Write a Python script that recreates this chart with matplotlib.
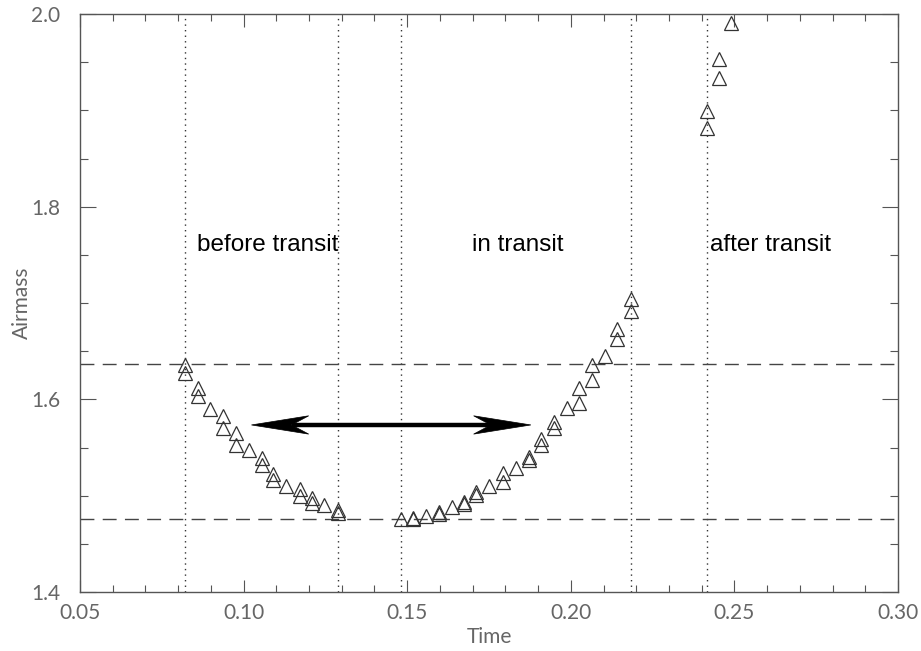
import numpy as np
import matplotlib
matplotlib.use("Agg")
import matplotlib.pyplot as plt
from matplotlib.patches import Polygon
from matplotlib.ticker import MultipleLocator

# ---- data ----
before_time = [0.0820, 0.0820, 0.0860, 0.0860, 0.0896, 0.0936, 0.0936, 0.0976, 0.0976,
               0.1015, 0.1055, 0.1055, 0.1091, 0.1091, 0.1131, 0.1171, 0.1171, 0.1210,
               0.1210, 0.1247, 0.1287, 0.1287]
before_airmass = [1.6357, 1.6273, 1.6118, 1.6035, 1.5900, 1.5827, 1.5702, 1.5651, 1.5526,
                  1.5474, 1.5391, 1.5318, 1.5225, 1.5163, 1.5100, 1.5069, 1.4997, 1.4976,
                  1.4924, 1.4903, 1.4851, 1.4820]

in_time = [0.1482, 0.1518, 0.1518, 0.1558, 0.1598, 0.1598, 0.1637, 0.1674, 0.1674,
           0.1710, 0.1710, 0.1750, 0.1793, 0.1793, 0.1832, 0.1872, 0.1872, 0.1909,
           0.1909, 0.1948, 0.1948, 0.1988, 0.2024, 0.2024, 0.2064, 0.2064, 0.2104,
           0.2140, 0.2140, 0.2183, 0.2183]
in_airmass = [1.4758, 1.4768, 1.4758, 1.4789, 1.4830, 1.4810, 1.4882, 1.4934, 1.4914,
              1.5038, 1.5007, 1.5100, 1.5235, 1.5142, 1.5287, 1.5401, 1.5370, 1.5588,
              1.5526, 1.5765, 1.5702, 1.5910, 1.6118, 1.5962, 1.6357, 1.6201, 1.6450,
              1.6730, 1.6626, 1.7042, 1.6917]

after_time = [0.2415, 0.2415, 0.2454, 0.2454, 0.2491]
after_airmass = [1.8993, 1.8817, 1.9533, 1.9336, 1.9907]

phase_bounds = [0.0820, 0.1287, 0.1482, 0.2183, 0.2415]
airmass_limits = [1.6367, 1.4758]

region_labels = ["before transit", "in transit", "after transit"]
region_label_x = [0.1073, 0.1838, 0.2610]
region_label_y = 1.7602

arrow_x = [0.1024, 0.1878]
arrow_y = 1.5734

xticks = [0.05, 0.10, 0.15, 0.20, 0.25, 0.30]
yticks = [1.4, 1.6, 1.8, 2.0]

# ---- figure ----
W, H = 921, 651
L, R, T, B = 80, 898, 14, 592
fig = plt.figure(figsize=(W / 100, H / 100), dpi=100)
ax = fig.add_axes([L / W, (H - B) / H, (R - L) / W, (B - T) / H])

gray = "#555555"
label_gray = "#666666"
tick_font = dict(family=["Lato", "DejaVu Sans"], size=15, color=label_gray, weight="normal")

ax.set_xlim(0.05, 0.30)
ax.set_ylim(1.4, 2.0)

for b in phase_bounds:
    ax.axvline(b, color="#333333", linestyle=(0, (1, 3)), linewidth=1.0, zorder=1)
for a in airmass_limits:
    ax.axhline(a, color="#444444", linestyle=(0, (10, 6)), linewidth=1.0, zorder=1)

for t, am in [(before_time, before_airmass), (in_time, in_airmass), (after_time, after_airmass)]:
    ax.plot(t, am, linestyle="none", marker="^", markersize=9.5, markerfacecolor="none",
            markeredgecolor="#333333", markeredgewidth=0.9, zorder=3)

for lab, lx in zip(region_labels, region_label_x):
    ax.text(lx, region_label_y, lab, ha="center", va="center", fontsize=17.5,
            family=["Liberation Sans", "DejaVu Sans"], color="black")

# double-headed arrow with concave heads
head_len = 0.0175
head_w = 0.0095
notch = 0.7 * head_len
x0, x1 = arrow_x
ax.plot([x0 + notch, x1 - notch], [arrow_y, arrow_y], color="black", linewidth=3.2,
        solid_capstyle="butt", zorder=4)
for tip, sgn in [(x0, 1), (x1, -1)]:
    pts = [(tip, arrow_y), (tip + sgn * head_len, arrow_y + head_w),
           (tip + sgn * notch, arrow_y), (tip + sgn * head_len, arrow_y - head_w)]
    ax.add_patch(Polygon(pts, closed=True, facecolor="black", edgecolor="black",
                         linewidth=0.5, zorder=5))

ax.set_xticks(xticks)
ax.set_xticklabels([f"{v:.2f}" for v in xticks], **tick_font)
ax.set_yticks(yticks)
ax.set_yticklabels([f"{v:.1f}" for v in yticks], **tick_font)
ax.xaxis.set_minor_locator(MultipleLocator(0.01))
ax.yaxis.set_minor_locator(MultipleLocator(0.05))

ax.tick_params(axis="x", which="major", direction="in", length=9, width=0.8,
               color=gray, top=True, bottom=True, pad=8)
ax.tick_params(axis="x", which="minor", direction="in", length=5, width=0.8,
               color=gray, top=True, bottom=True)
ax.tick_params(axis="y", which="major", direction="in", length=11.5, width=0.8,
               color=gray, left=True, right=True, pad=14)
ax.tick_params(axis="y", which="minor", direction="in", length=5.8, width=0.8,
               color=gray, left=True, right=True)

for sp in ax.spines.values():
    sp.set_color(gray)
    sp.set_linewidth(1.0)

ax.set_xlabel("Time", fontsize=15, color=label_gray, family=["Lato", "DejaVu Sans"],
              weight="normal", va="center")
ax.xaxis.set_label_coords(0.5, (B - 637) / (B - T))
ax.set_ylabel("Airmass", fontsize=15, color=label_gray, family=["Lato", "DejaVu Sans"],
              weight="normal", va="center")
ax.yaxis.set_label_coords((22 - L) / (R - L), 0.5)

fig.savefig("out.png", dpi=100)
